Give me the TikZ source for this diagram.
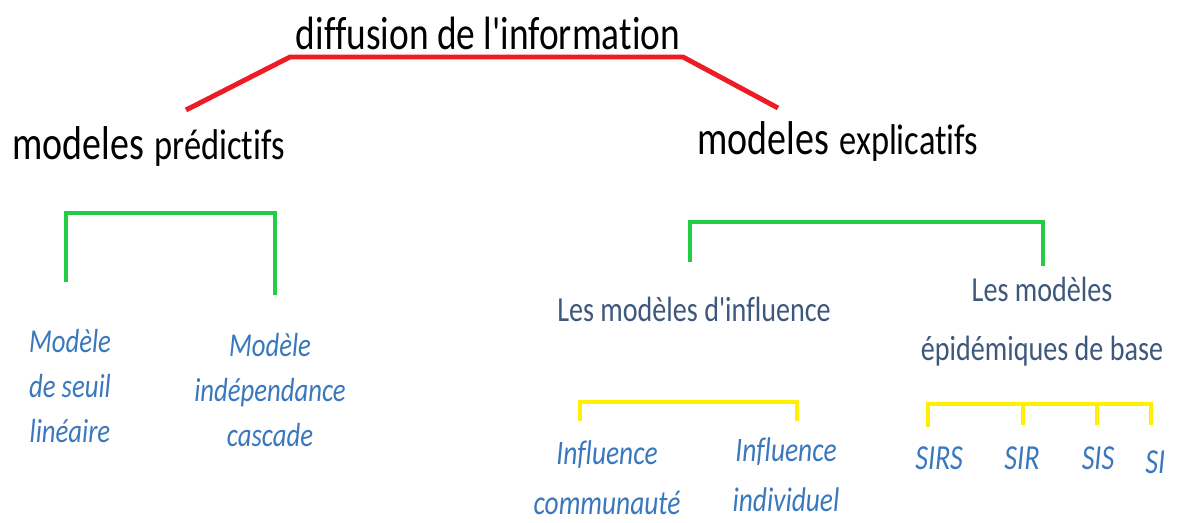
\documentclass[tikz,border=0pt]{standalone}
\usepackage{fontspec}
\setmainfont{Carlito}[FakeStretch=0.8, Ligatures={TeXOff, NoCommon}]
\definecolor{treered}{RGB}{237,28,36}
\definecolor{treegreen}{RGB}{34,204,68}
\definecolor{treeyellow}{RGB}{255,240,0}
\definecolor{leafblue}{RGB}{58,120,190}
\definecolor{slateblue}{RGB}{62,88,124}
\newcommand{\fsz}[2]{\fontsize{#1}{#2}\selectfont}
\tikzset{
  x=0.02cm, y=-0.02cm,
  branch/.style={line width=2.8pt, line join=miter},
  redbranch/.style={branch, treered},
  greenbranch/.style={branch, treegreen},
  yellowbranch/.style={branch, treeyellow},
  title/.style={inner sep=0pt, text=black, font=\fsz{26.6}{30}},
  family/.style={inner sep=0pt, text=black},
  group/.style={inner sep=0pt, text=slateblue, align=center},
  leaf/.style={inner sep=0pt, text=leafblue, align=center, font=\itshape\fsz{19}{25.6}},
}
\begin{document}
\begin{tikzpicture}
\useasboundingbox (0,0) rectangle (1177,523);
\clip (0,0) rectangle (1177,523);
\fill[white] (0,0) rectangle (1177,523);

% root and the two families of models
\node[title, anchor=base] (root) at (488,50) {diffusion de l'information};
\node[family, anchor=base west] (pred) at (12,160)
  {{\fsz{27}{30}modeles}\hspace{6pt}{\fsz{24.5}{30}prédictifs}};
\node[family, anchor=base west] (expl) at (697,155)
  {{\fsz{27}{30}modeles}\hspace{6pt}{\fsz{24.5}{30}explicatifs}};

% red branch under the root
\coordinate (r1) at (186,110);
\coordinate (r2) at (290,57);
\coordinate (r3) at (683,57);
\coordinate (r4) at (778,108);
\draw[redbranch] (r1) -- (r2) -- (r3) -- (r4);

% predictive models
\coordinate (pl) at (66,282);
\coordinate (plt) at (66,213);
\coordinate (prt) at (275,213);
\coordinate (pr) at (275,295);
\draw[greenbranch] (pl) -- (plt) -- (prt) -- (pr);
\node[leaf] (seuil) at (70,386) {Modèle\\de seuil\\linéaire};
\node[leaf] (casc) at (270,390) {Modèle\\indépendance\\cascade};

% explanatory models
\coordinate (el) at (690,262);
\coordinate (elt) at (690,222);
\coordinate (ert) at (1043,222);
\coordinate (er) at (1043,266);
\draw[greenbranch] (el) -- (elt) -- (ert) -- (er);
\node[group, font=\fsz{20}{24}, anchor=base] (infl) at (694,322) {Les modèles d'influence};
\node[group, font=\fsz{20}{33.6}] (epid) at (1042,322) {Les modèles\\épidémiques de base};

% influence models
\coordinate (il) at (580,421);
\coordinate (ilt) at (580,402);
\coordinate (irt) at (797,402);
\coordinate (ir) at (797,421);
\draw[yellowbranch] (il) -- (ilt) -- (irt) -- (ir);
\node[leaf, font=\itshape\fsz{19.5}{28.5}] (comm) at (607,478) {Influence\\communauté};
\node[leaf, font=\itshape\fsz{19.5}{28.5}] (indiv) at (786,475) {Influence\\individuel};

% basic epidemic models
\coordinate (e1) at (928,427);
\coordinate (e1t) at (928,404);
\coordinate (e4t) at (1151,404);
\coordinate (e4) at (1151,425);
\coordinate (e2t) at (1023,404);
\coordinate (e2) at (1023,425);
\coordinate (e3t) at (1097,404);
\coordinate (e3) at (1097,425);
\draw[yellowbranch] (e1) -- (e1t) -- (e4t) -- (e4);
\draw[yellowbranch] (e2t) -- (e2);
\draw[yellowbranch] (e3t) -- (e3);
\node[leaf, font=\itshape\fsz{20}{24}, anchor=base] (sirs) at (939,470) {SIRS};
\node[leaf, font=\itshape\fsz{20}{24}, anchor=base] (sir) at (1022,470) {SIR};
\node[leaf, font=\itshape\fsz{20}{24}, anchor=base] (sis) at (1098,470) {SIS};
\node[leaf, font=\itshape\fsz{20}{24}, anchor=base west] (si) at (1145,474) {SI};
\end{tikzpicture}
\end{document}
